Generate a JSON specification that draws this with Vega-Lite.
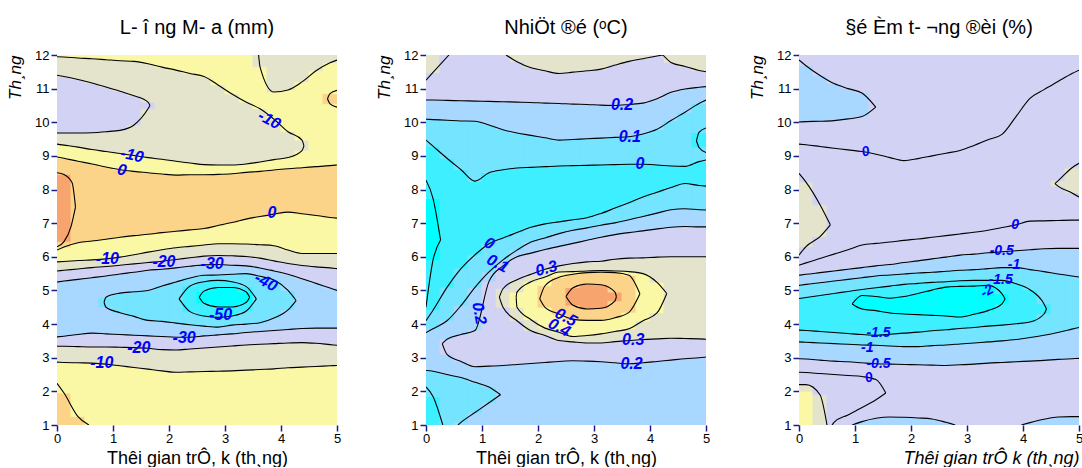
{
"$schema":"https://vega.github.io/schema/vega-lite/v6.json",
"padding":{"left":6,"top":18,"right":0,"bottom":0},
"config":{"view":{"stroke":null},"font":"Liberation Sans",
"axis":{"grid":false,"domain":false,"tickColor":"#1c1c7c","tickWidth":1.5,"tickSize":6,"labelFont":"Liberation Sans","labelFontSize":13,"labelColor":"#000","labelPadding":2,"labelFlush":false,"titleFont":"Liberation Sans","titleFontWeight":"normal","titleColor":"#000"},
"axisX":{"titleFontSize":18,"titlePadding":4,"labelPadding":1},
"axisY":{"titleFontSize":17,"titleFontStyle":"italic","titleAnchor":"end","titlePadding":10},
"title":{"font":"Liberation Sans","fontSize":20,"fontWeight":"normal","color":"#000","offset":11,"baseline":"bottom"}},
"spacing":38,
"hconcat":[{"spacing":34,"hconcat":[
{"width":280,"height":370,"title":{"text":"L- î ng M- a (mm)"},
"data":{"values":[
{"x":0,"y2":2.24,"c":"a"},{"x":0.57,"y2":1.0,"c":"a"},{"x":0,"y2":2.87,"c":"b"},{"x":5,"y2":2.77,"c":"b"},{"x":0,"y2":3.34,"c":"c"},{"x":5,"y2":3.37,"c":"c"},{"x":0,"y2":3.62,"c":"d"},{"x":5,"y2":3.88,"c":"d"},
{"x":0.84,"y2":4.65,"c":"e"},{"x":4.27,"y2":4.7,"c":"e"},{"x":0.84,"y2":4.65,"c":"j"},{"x":4.27,"y2":4.7,"c":"j"},{"x":2.18,"y2":4.75,"c":"f"},{"x":3.56,"y2":4.75,"c":"f"},{"x":2.18,"y2":4.75,"c":"i"},{"x":3.56,"y2":4.75,"c":"i"},{"x":2.54,"y2":4.8,"c":"g"},{"x":3.44,"y2":4.8,"c":"g"},{"x":2.54,"y2":4.8,"c":"h"},{"x":3.44,"y2":4.8,"c":"h"},
{"x":0,"y2":5.25,"c":"k"},{"x":5,"y2":5.0,"c":"k"},{"x":0,"y2":5.58,"c":"l"},{"x":5,"y2":5.65,"c":"l"},{"x":0,"y2":5.85,"c":"m"},{"x":5,"y2":6.1,"c":"m"},{"x":0,"y2":6.2,"c":"n"},{"x":5,"y2":7.15,"c":"n"},
{"x":0,"y2":6.3,"c":"o"},{"x":0.25,"y2":6.9,"c":"o"},{"x":0.33,"y2":7.48,"c":"o"},{"x":0,"y2":8.5,"c":"p"},{"x":0.27,"y2":8.2,"c":"p"},{"x":0.33,"y2":7.48,"c":"p"},
{"x":0,"y2":8.97,"c":"q"},{"x":5,"y2":8.73,"c":"q"},{"x":0,"y2":9.35,"c":"r"},{"x":4.41,"y2":9.3,"c":"r"},{"x":0,"y2":9.68,"c":"s"},{"x":1.66,"y2":10.5,"c":"s"},{"x":0,"y2":11.4,"c":"t"},{"x":1.66,"y2":10.5,"c":"t"},{"x":0,"y2":11.95,"c":"u"},{"x":4.41,"y2":9.3,"c":"u"},
{"x":3.6,"y2":12,"c":"w"},{"x":5,"y2":11.85,"c":"w"},{"x":5,"y2":10.45,"c":"x"},{"x":4.83,"y2":10.7,"c":"x"},{"x":4.83,"y2":10.7,"c":"y"},{"x":5,"y2":10.95,"c":"y"},
{"x":0.125,"y":1,"y2":1.95,"v":5,"c":"a"},{"x":0.125,"y":1.95,"y2":2.86,"v":-5,"c":"b"},{"x":0.125,"y":2.86,"y2":3.34,"v":-15,"c":"c"},{"x":0.125,"y":3.34,"y2":3.64,"v":-25,"c":"d"},{"x":0.125,"y":3.64,"y2":5.28,"v":-35,"c":"k"},{"x":0.125,"y":5.28,"y2":5.6,"v":-25,"c":"l"},{"x":0.125,"y":5.6,"y2":5.86,"v":-15,"c":"m"},{"x":0.125,"y":5.86,"y2":6.29,"v":-5,"c":"n"},{"x":0.125,"y":6.29,"y2":6.45,"v":5,"c":"o"},{"x":0.125,"y":6.45,"y2":8.45,"v":15,"c":"p"},{"x":0.125,"y":8.45,"y2":8.93,"v":5,"c":"q"},{"x":0.125,"y":8.93,"y2":9.32,"v":-5,"c":"r"},{"x":0.125,"y":9.32,"y2":9.68,"v":-15,"c":"s"},{"x":0.125,"y":9.68,"y2":11.36,"v":-25,"c":"t"},{"x":0.125,"y":11.36,"y2":11.94,"v":-15,"c":"u"},{"x":0.125,"y":11.94,"y2":12,"v":-5},
{"x":0.375,"y":1,"y2":1.25,"v":5,"c":"a"},{"x":0.375,"y":1.25,"y2":2.85,"v":-5,"c":"b"},{"x":0.375,"y":2.85,"y2":3.33,"v":-15,"c":"c"},{"x":0.375,"y":3.33,"y2":3.69,"v":-25,"c":"d"},{"x":0.375,"y":3.69,"y2":5.33,"v":-35,"c":"k"},{"x":0.375,"y":5.33,"y2":5.64,"v":-25,"c":"l"},{"x":0.375,"y":5.64,"y2":5.89,"v":-15,"c":"m"},{"x":0.375,"y":5.89,"y2":6.42,"v":-5,"c":"n"},{"x":0.375,"y":6.42,"y2":8.84,"v":5,"c":"q"},{"x":0.375,"y":8.84,"y2":9.26,"v":-5,"c":"r"},{"x":0.375,"y":9.26,"y2":9.68,"v":-15,"c":"s"},{"x":0.375,"y":9.68,"y2":11.27,"v":-25,"c":"t"},{"x":0.375,"y":11.27,"y2":11.91,"v":-15,"c":"u"},{"x":0.375,"y":11.91,"y2":12,"v":-5},
{"x":0.625,"y":1,"y2":2.84,"v":-5,"c":"b"},{"x":0.625,"y":2.84,"y2":3.32,"v":-15,"c":"c"},{"x":0.625,"y":3.32,"y2":3.73,"v":-25,"c":"d"},{"x":0.625,"y":3.73,"y2":5.38,"v":-35,"c":"k"},{"x":0.625,"y":5.38,"y2":5.68,"v":-25,"c":"l"},{"x":0.625,"y":5.68,"y2":5.91,"v":-15,"c":"m"},{"x":0.625,"y":5.91,"y2":6.47,"v":-5,"c":"n"},{"x":0.625,"y":6.47,"y2":8.76,"v":5,"c":"q"},{"x":0.625,"y":8.76,"y2":9.19,"v":-5,"c":"r"},{"x":0.625,"y":9.19,"y2":9.69,"v":-15,"c":"s"},{"x":0.625,"y":9.69,"y2":11.17,"v":-25,"c":"t"},{"x":0.625,"y":11.17,"y2":11.89,"v":-15,"c":"u"},{"x":0.625,"y":11.89,"y2":12,"v":-5},
{"x":0.875,"y":1,"y2":2.81,"v":-5,"c":"b"},{"x":0.875,"y":2.81,"y2":3.32,"v":-15,"c":"c"},{"x":0.875,"y":3.32,"y2":3.71,"v":-25,"c":"d"},{"x":0.875,"y":3.71,"y2":4.5,"v":-35,"c":"e"},{"x":0.875,"y":4.5,"y2":4.8,"v":-45,"c":"j"},{"x":0.875,"y":4.8,"y2":5.43,"v":-35,"c":"k"},{"x":0.875,"y":5.43,"y2":5.71,"v":-25,"c":"l"},{"x":0.875,"y":5.71,"y2":5.94,"v":-15,"c":"m"},{"x":0.875,"y":5.94,"y2":6.52,"v":-5,"c":"n"},{"x":0.875,"y":6.52,"y2":8.67,"v":5,"c":"q"},{"x":0.875,"y":8.67,"y2":9.13,"v":-5,"c":"r"},{"x":0.875,"y":9.13,"y2":9.72,"v":-15,"c":"s"},{"x":0.875,"y":9.72,"y2":11.05,"v":-25,"c":"t"},{"x":0.875,"y":11.05,"y2":11.86,"v":-15,"c":"u"},{"x":0.875,"y":11.86,"y2":12,"v":-5},
{"x":1.125,"y":1,"y2":2.76,"v":-5,"c":"b"},{"x":1.125,"y":2.76,"y2":3.31,"v":-15,"c":"c"},{"x":1.125,"y":3.31,"y2":3.69,"v":-25,"c":"d"},{"x":1.125,"y":3.69,"y2":4.34,"v":-35,"c":"e"},{"x":1.125,"y":4.34,"y2":4.92,"v":-45,"c":"j"},{"x":1.125,"y":4.92,"y2":5.49,"v":-35,"c":"k"},{"x":1.125,"y":5.49,"y2":5.75,"v":-25,"c":"l"},{"x":1.125,"y":5.75,"y2":5.99,"v":-15,"c":"m"},{"x":1.125,"y":5.99,"y2":6.58,"v":-5,"c":"n"},{"x":1.125,"y":6.58,"y2":8.59,"v":5,"c":"q"},{"x":1.125,"y":8.59,"y2":9.07,"v":-5,"c":"r"},{"x":1.125,"y":9.07,"y2":9.76,"v":-15,"c":"s"},{"x":1.125,"y":9.76,"y2":10.92,"v":-25,"c":"t"},{"x":1.125,"y":10.92,"y2":11.83,"v":-15,"c":"u"},{"x":1.125,"y":11.83,"y2":12,"v":-5},
{"x":1.375,"y":1,"y2":2.71,"v":-5,"c":"b"},{"x":1.375,"y":2.71,"y2":3.3,"v":-15,"c":"c"},{"x":1.375,"y":3.3,"y2":3.67,"v":-25,"c":"d"},{"x":1.375,"y":3.67,"y2":4.23,"v":-35,"c":"e"},{"x":1.375,"y":4.23,"y2":4.96,"v":-45,"c":"j"},{"x":1.375,"y":4.96,"y2":5.54,"v":-35,"c":"k"},{"x":1.375,"y":5.54,"y2":5.79,"v":-25,"c":"l"},{"x":1.375,"y":5.79,"y2":6.06,"v":-15,"c":"m"},{"x":1.375,"y":6.06,"y2":6.63,"v":-5,"c":"n"},{"x":1.375,"y":6.63,"y2":8.54,"v":5,"c":"q"},{"x":1.375,"y":8.54,"y2":9.01,"v":-5,"c":"r"},{"x":1.375,"y":9.01,"y2":9.92,"v":-15,"c":"s"},{"x":1.375,"y":9.92,"y2":10.79,"v":-25,"c":"t"},{"x":1.375,"y":10.79,"y2":11.81,"v":-15,"c":"u"},{"x":1.375,"y":11.81,"y2":12,"v":-5},
{"x":1.625,"y":1,"y2":2.66,"v":-5,"c":"b"},{"x":1.625,"y":2.66,"y2":3.28,"v":-15,"c":"c"},{"x":1.625,"y":3.28,"y2":3.65,"v":-25,"c":"d"},{"x":1.625,"y":3.65,"y2":4.11,"v":-35,"c":"e"},{"x":1.625,"y":4.11,"y2":5.0,"v":-45,"c":"j"},{"x":1.625,"y":5.0,"y2":5.6,"v":-35,"c":"k"},{"x":1.625,"y":5.6,"y2":5.83,"v":-25,"c":"l"},{"x":1.625,"y":5.83,"y2":6.14,"v":-15,"c":"m"},{"x":1.625,"y":6.14,"y2":6.67,"v":-5,"c":"n"},{"x":1.625,"y":6.67,"y2":8.5,"v":5,"c":"q"},{"x":1.625,"y":8.5,"y2":8.95,"v":-5,"c":"r"},{"x":1.625,"y":8.95,"y2":10.4,"v":-15,"c":"s"},{"x":1.625,"y":10.4,"y2":10.6,"v":-25,"c":"t"},{"x":1.625,"y":10.6,"y2":11.74,"v":-15,"c":"u"},{"x":1.625,"y":11.74,"y2":12,"v":-5},
{"x":1.875,"y":1,"y2":2.61,"v":-5,"c":"b"},{"x":1.875,"y":2.61,"y2":3.24,"v":-15,"c":"c"},{"x":1.875,"y":3.24,"y2":3.63,"v":-25,"c":"d"},{"x":1.875,"y":3.63,"y2":4.08,"v":-35,"c":"e"},{"x":1.875,"y":4.08,"y2":5.13,"v":-45,"c":"j"},{"x":1.875,"y":5.13,"y2":5.63,"v":-35,"c":"k"},{"x":1.875,"y":5.63,"y2":5.87,"v":-25,"c":"l"},{"x":1.875,"y":5.87,"y2":6.21,"v":-15,"c":"m"},{"x":1.875,"y":6.21,"y2":6.72,"v":-5,"c":"n"},{"x":1.875,"y":6.72,"y2":8.46,"v":5,"c":"q"},{"x":1.875,"y":8.46,"y2":8.9,"v":-5,"c":"r"},{"x":1.875,"y":8.9,"y2":11.64,"v":-15,"c":"u"},{"x":1.875,"y":11.64,"y2":12,"v":-5},
{"x":2.125,"y":1,"y2":2.57,"v":-5,"c":"b"},{"x":2.125,"y":2.57,"y2":3.23,"v":-15,"c":"c"},{"x":2.125,"y":3.23,"y2":3.61,"v":-25,"c":"d"},{"x":2.125,"y":3.61,"y2":4.03,"v":-35,"c":"e"},{"x":2.125,"y":4.03,"y2":5.25,"v":-45,"c":"j"},{"x":2.125,"y":5.25,"y2":5.67,"v":-35,"c":"k"},{"x":2.125,"y":5.67,"y2":5.92,"v":-25,"c":"l"},{"x":2.125,"y":5.92,"y2":6.27,"v":-15,"c":"m"},{"x":2.125,"y":6.27,"y2":6.76,"v":-5,"c":"n"},{"x":2.125,"y":6.76,"y2":8.43,"v":5,"c":"q"},{"x":2.125,"y":8.43,"y2":8.84,"v":-5,"c":"r"},{"x":2.125,"y":8.84,"y2":11.55,"v":-15,"c":"u"},{"x":2.125,"y":11.55,"y2":12,"v":-5},
{"x":2.375,"y":1,"y2":2.58,"v":-5,"c":"b"},{"x":2.375,"y":2.58,"y2":3.26,"v":-15,"c":"c"},{"x":2.375,"y":3.26,"y2":3.61,"v":-25,"c":"d"},{"x":2.375,"y":3.61,"y2":3.98,"v":-35,"c":"e"},{"x":2.375,"y":3.98,"y2":4.37,"v":-45,"c":"f"},{"x":2.375,"y":4.37,"y2":5.13,"v":-55,"c":"i"},{"x":2.375,"y":5.13,"y2":5.37,"v":-45,"c":"j"},{"x":2.375,"y":5.37,"y2":5.72,"v":-35,"c":"k"},{"x":2.375,"y":5.72,"y2":5.97,"v":-25,"c":"l"},{"x":2.375,"y":5.97,"y2":6.31,"v":-15,"c":"m"},{"x":2.375,"y":6.31,"y2":6.8,"v":-5,"c":"n"},{"x":2.375,"y":6.8,"y2":8.44,"v":5,"c":"q"},{"x":2.375,"y":8.44,"y2":8.79,"v":-5,"c":"r"},{"x":2.375,"y":8.79,"y2":11.45,"v":-15,"c":"u"},{"x":2.375,"y":11.45,"y2":12,"v":-5},
{"x":2.625,"y":1,"y2":2.59,"v":-5,"c":"b"},{"x":2.625,"y":2.59,"y2":3.29,"v":-15,"c":"c"},{"x":2.625,"y":3.29,"y2":3.65,"v":-25,"c":"d"},{"x":2.625,"y":3.65,"y2":3.94,"v":-35,"c":"e"},{"x":2.625,"y":3.94,"y2":4.24,"v":-45,"c":"f"},{"x":2.625,"y":4.24,"y2":4.62,"v":-55,"c":"g"},{"x":2.625,"y":4.62,"y2":4.98,"v":-65,"c":"h"},{"x":2.625,"y":4.98,"y2":5.26,"v":-55,"c":"i"},{"x":2.625,"y":5.26,"y2":5.45,"v":-45,"c":"j"},{"x":2.625,"y":5.45,"y2":5.76,"v":-35,"c":"k"},{"x":2.625,"y":5.76,"y2":6.02,"v":-25,"c":"l"},{"x":2.625,"y":6.02,"y2":6.35,"v":-15,"c":"m"},{"x":2.625,"y":6.35,"y2":6.84,"v":-5,"c":"n"},{"x":2.625,"y":6.84,"y2":8.44,"v":5,"c":"q"},{"x":2.625,"y":8.44,"y2":8.74,"v":-5,"c":"r"},{"x":2.625,"y":8.74,"y2":11.36,"v":-15,"c":"u"},{"x":2.625,"y":11.36,"y2":12,"v":-5},
{"x":2.875,"y":1,"y2":2.6,"v":-5,"c":"b"},{"x":2.875,"y":2.6,"y2":3.32,"v":-15,"c":"c"},{"x":2.875,"y":3.32,"y2":3.68,"v":-25,"c":"d"},{"x":2.875,"y":3.68,"y2":3.91,"v":-35,"c":"e"},{"x":2.875,"y":3.91,"y2":4.2,"v":-45,"c":"f"},{"x":2.875,"y":4.2,"y2":4.51,"v":-55,"c":"g"},{"x":2.875,"y":4.51,"y2":5.09,"v":-65,"c":"h"},{"x":2.875,"y":5.09,"y2":5.3,"v":-55,"c":"i"},{"x":2.875,"y":5.3,"y2":5.46,"v":-45,"c":"j"},{"x":2.875,"y":5.46,"y2":5.77,"v":-35,"c":"k"},{"x":2.875,"y":5.77,"y2":6.04,"v":-25,"c":"l"},{"x":2.875,"y":6.04,"y2":6.39,"v":-15,"c":"m"},{"x":2.875,"y":6.39,"y2":6.93,"v":-5,"c":"n"},{"x":2.875,"y":6.93,"y2":8.45,"v":5,"c":"q"},{"x":2.875,"y":8.45,"y2":8.73,"v":-5,"c":"r"},{"x":2.875,"y":8.73,"y2":11.11,"v":-15,"c":"u"},{"x":2.875,"y":11.11,"y2":12,"v":-5},
{"x":3.125,"y":1,"y2":2.61,"v":-5,"c":"b"},{"x":3.125,"y":2.61,"y2":3.35,"v":-15,"c":"c"},{"x":3.125,"y":3.35,"y2":3.71,"v":-25,"c":"d"},{"x":3.125,"y":3.71,"y2":3.97,"v":-35,"c":"e"},{"x":3.125,"y":3.97,"y2":4.24,"v":-45,"c":"f"},{"x":3.125,"y":4.24,"y2":4.51,"v":-55,"c":"g"},{"x":3.125,"y":4.51,"y2":5.09,"v":-65,"c":"h"},{"x":3.125,"y":5.09,"y2":5.26,"v":-55,"c":"i"},{"x":3.125,"y":5.26,"y2":5.48,"v":-45,"c":"j"},{"x":3.125,"y":5.48,"y2":5.75,"v":-35,"c":"k"},{"x":3.125,"y":5.75,"y2":6.03,"v":-25,"c":"l"},{"x":3.125,"y":6.03,"y2":6.39,"v":-15,"c":"m"},{"x":3.125,"y":6.39,"y2":7.02,"v":-5,"c":"n"},{"x":3.125,"y":7.02,"y2":8.47,"v":5,"c":"q"},{"x":3.125,"y":8.47,"y2":8.73,"v":-5,"c":"r"},{"x":3.125,"y":8.73,"y2":10.84,"v":-15,"c":"u"},{"x":3.125,"y":10.84,"y2":12,"v":-5},
{"x":3.375,"y":1,"y2":2.63,"v":-5,"c":"b"},{"x":3.375,"y":2.63,"y2":3.38,"v":-15,"c":"c"},{"x":3.375,"y":3.38,"y2":3.75,"v":-25,"c":"d"},{"x":3.375,"y":3.75,"y2":4.0,"v":-35,"c":"e"},{"x":3.375,"y":4.0,"y2":4.38,"v":-45,"c":"f"},{"x":3.375,"y":4.38,"y2":4.64,"v":-55,"c":"g"},{"x":3.375,"y":4.64,"y2":4.96,"v":-65,"c":"h"},{"x":3.375,"y":4.96,"y2":5.12,"v":-55,"c":"i"},{"x":3.375,"y":5.12,"y2":5.5,"v":-45,"c":"j"},{"x":3.375,"y":5.5,"y2":5.73,"v":-35,"c":"k"},{"x":3.375,"y":5.73,"y2":6.01,"v":-25,"c":"l"},{"x":3.375,"y":6.01,"y2":6.38,"v":-15,"c":"m"},{"x":3.375,"y":6.38,"y2":7.12,"v":-5,"c":"n"},{"x":3.375,"y":7.12,"y2":8.51,"v":5,"c":"q"},{"x":3.375,"y":8.51,"y2":8.76,"v":-5,"c":"r"},{"x":3.375,"y":8.76,"y2":10.6,"v":-15,"c":"u"},{"x":3.375,"y":10.6,"y2":12,"v":-5},
{"x":3.625,"y":1,"y2":2.65,"v":-5,"c":"b"},{"x":3.625,"y":2.65,"y2":3.4,"v":-15,"c":"c"},{"x":3.625,"y":3.4,"y2":3.78,"v":-25,"c":"d"},{"x":3.625,"y":3.78,"y2":4.04,"v":-35,"c":"e"},{"x":3.625,"y":4.04,"y2":5.42,"v":-45,"c":"j"},{"x":3.625,"y":5.42,"y2":5.67,"v":-35,"c":"k"},{"x":3.625,"y":5.67,"y2":5.96,"v":-25,"c":"l"},{"x":3.625,"y":5.96,"y2":6.36,"v":-15,"c":"m"},{"x":3.625,"y":6.36,"y2":7.2,"v":-5,"c":"n"},{"x":3.625,"y":7.2,"y2":8.54,"v":5,"c":"q"},{"x":3.625,"y":8.54,"y2":8.82,"v":-5,"c":"r"},{"x":3.625,"y":8.82,"y2":10.4,"v":-15,"c":"u"},{"x":3.625,"y":10.4,"y2":11.65,"v":-5,"c":"w"},{"x":3.625,"y":11.65,"y2":12,"v":-15},
{"x":3.875,"y":1,"y2":2.67,"v":-5,"c":"b"},{"x":3.875,"y":2.67,"y2":3.42,"v":-15,"c":"c"},{"x":3.875,"y":3.42,"y2":3.81,"v":-25,"c":"d"},{"x":3.875,"y":3.81,"y2":4.18,"v":-35,"c":"e"},{"x":3.875,"y":4.18,"y2":5.31,"v":-45,"c":"j"},{"x":3.875,"y":5.31,"y2":5.58,"v":-35,"c":"k"},{"x":3.875,"y":5.58,"y2":5.88,"v":-25,"c":"l"},{"x":3.875,"y":5.88,"y2":6.33,"v":-15,"c":"m"},{"x":3.875,"y":6.33,"y2":7.27,"v":-5,"c":"n"},{"x":3.875,"y":7.27,"y2":8.58,"v":5,"c":"q"},{"x":3.875,"y":8.58,"y2":8.89,"v":-5,"c":"r"},{"x":3.875,"y":8.89,"y2":10.09,"v":-15,"c":"u"},{"x":3.875,"y":10.09,"y2":10.9,"v":-5,"c":"w"},{"x":3.875,"y":10.9,"y2":12,"v":-15},
{"x":4.125,"y":1,"y2":2.7,"v":-5,"c":"b"},{"x":4.125,"y":2.7,"y2":3.44,"v":-15,"c":"c"},{"x":4.125,"y":3.44,"y2":3.84,"v":-25,"c":"d"},{"x":4.125,"y":3.84,"y2":4.42,"v":-35,"c":"e"},{"x":4.125,"y":4.42,"y2":5.0,"v":-45,"c":"j"},{"x":4.125,"y":5.0,"y2":5.48,"v":-35,"c":"k"},{"x":4.125,"y":5.48,"y2":5.8,"v":-25,"c":"l"},{"x":4.125,"y":5.8,"y2":6.2,"v":-15,"c":"m"},{"x":4.125,"y":6.2,"y2":7.33,"v":-5,"c":"n"},{"x":4.125,"y":7.33,"y2":8.62,"v":5,"c":"q"},{"x":4.125,"y":8.62,"y2":8.95,"v":-5,"c":"r"},{"x":4.125,"y":8.95,"y2":9.72,"v":-15,"c":"u"},{"x":4.125,"y":9.72,"y2":10.96,"v":-5,"c":"w"},{"x":4.125,"y":10.96,"y2":12,"v":-15},
{"x":4.375,"y":1,"y2":2.72,"v":-5,"c":"b"},{"x":4.375,"y":2.72,"y2":3.45,"v":-15,"c":"c"},{"x":4.375,"y":3.45,"y2":3.87,"v":-25,"c":"d"},{"x":4.375,"y":3.87,"y2":5.35,"v":-35,"c":"k"},{"x":4.375,"y":5.35,"y2":5.74,"v":-25,"c":"l"},{"x":4.375,"y":5.74,"y2":6.1,"v":-15,"c":"m"},{"x":4.375,"y":6.1,"y2":7.28,"v":-5,"c":"n"},{"x":4.375,"y":7.28,"y2":8.65,"v":5,"c":"q"},{"x":4.375,"y":8.65,"y2":9.16,"v":-5,"c":"r"},{"x":4.375,"y":9.16,"y2":9.47,"v":-15,"c":"u"},{"x":4.375,"y":9.47,"y2":11.2,"v":-5,"c":"w"},{"x":4.375,"y":11.2,"y2":12,"v":-15},
{"x":4.625,"y":1,"y2":2.74,"v":-5,"c":"b"},{"x":4.625,"y":2.74,"y2":3.43,"v":-15,"c":"c"},{"x":4.625,"y":3.43,"y2":3.88,"v":-25,"c":"d"},{"x":4.625,"y":3.88,"y2":5.21,"v":-35,"c":"k"},{"x":4.625,"y":5.21,"y2":5.7,"v":-25,"c":"l"},{"x":4.625,"y":5.7,"y2":6.1,"v":-15,"c":"m"},{"x":4.625,"y":6.1,"y2":7.23,"v":-5,"c":"n"},{"x":4.625,"y":7.23,"y2":8.68,"v":5,"c":"q"},{"x":4.625,"y":8.68,"y2":11.53,"v":-5,"c":"w"},{"x":4.625,"y":11.53,"y2":12,"v":-15},
{"x":4.875,"y":1,"y2":2.76,"v":-5,"c":"b"},{"x":4.875,"y":2.76,"y2":3.39,"v":-15,"c":"c"},{"x":4.875,"y":3.39,"y2":3.88,"v":-25,"c":"d"},{"x":4.875,"y":3.88,"y2":5.07,"v":-35,"c":"k"},{"x":4.875,"y":5.07,"y2":5.67,"v":-25,"c":"l"},{"x":4.875,"y":5.67,"y2":6.1,"v":-15,"c":"m"},{"x":4.875,"y":6.1,"y2":7.17,"v":-5,"c":"n"},{"x":4.875,"y":7.17,"y2":8.71,"v":5,"c":"q"},{"x":4.875,"y":8.71,"y2":10.55,"v":-5,"c":"x"},{"x":4.875,"y":10.55,"y2":10.85,"v":5,"c":"y"},{"x":4.875,"y":10.85,"y2":11.77,"v":-5,"c":"w"},{"x":4.875,"y":11.77,"y2":12,"v":-15}
]},
"encoding":{"x":{"field":"x","type":"quantitative","scale":{"domain":[0,5],"nice":false,"zero":false},"axis":{"values":[0,1,2,3,4,5],"title":"Thêi gian trÔ, k (th¸ng)"}},
"y":{"field":"y","type":"quantitative","scale":{"domain":[1,12],"nice":false,"zero":false},"axis":{"values":[1,2,3,4,5,6,7,8,9,10,11,12],"title":"Th¸ng"}}},
"layer":[
{"transform":[{"filter":"isValid(datum.v)"}],"mark":{"type":"rect","width":14.3,"clip":true,"strokeWidth":0.6},
"encoding":{"y2":{"field":"y2"},
"color":{"field":"v","type":"ordinal","scale":{"domain":[-65,-55,-45,-35,-25,-15,-5,5,15],"range":["#00FFFF","#3EF0FF","#74E4FF","#A8D8FF","#D2D2F4","#E4E4CC","#FAF8A4","#FBD48A","#F8A46E"]},"legend":null},
"stroke":{"field":"v","type":"ordinal","scale":{"domain":[-65,-55,-45,-35,-25,-15,-5,5,15],"range":["#00FFFF","#3EF0FF","#74E4FF","#A8D8FF","#D2D2F4","#E4E4CC","#FAF8A4","#FBD48A","#F8A46E"]},"legend":null}}},
{"transform":[{"filter":"isValid(datum.c)"}],"mark":{"type":"line","color":"#000","strokeWidth":1.1,"interpolate":"monotone","clip":true},
"encoding":{"y":{"field":"y2","type":"quantitative","scale":{"domain":[1,12],"nice":false,"zero":false},"axis":{"values":[1,2,3,4,5,6,7,8,9,10,11,12],"title":"Th¸ng"}},"detail":{"field":"c"},"order":{"field":"x","type":"quantitative"}}},
{"data":{"values":[{"x":3.84,"y":7.3,"t":"0"},{"x":0.9,"y":5.93,"t":"-10"},{"x":1.91,"y":5.85,"t":"-20"},{"x":2.77,"y":5.78,"t":"-30"},{"x":2.92,"y":4.26,"t":"-50"},{"x":2.27,"y":3.6,"t":"-30"},{"x":1.46,"y":3.3,"t":"-20"},{"x":0.8,"y":2.83,"t":"-10"}]},
"mark":{"type":"text","font":"Liberation Sans","fontSize":16,"fontStyle":"italic","fontWeight":"bold","fill":"#0000FF"},"encoding":{"text":{"field":"t"}}},
{"data":{"values":[{"x":1.34,"y":9.02,"t":"-10"},{"x":1.16,"y":8.58,"t":"0"}]},
"mark":{"type":"text","angle":12,"font":"Liberation Sans","fontSize":16,"fontStyle":"italic","fontWeight":"bold","fill":"#0000FF"},"encoding":{"text":{"field":"t"}}},
{"data":{"values":[{"x":3.79,"y":10.07,"t":"-10"},{"x":3.73,"y":5.25,"t":"-40"}]},
"mark":{"type":"text","angle":28,"font":"Liberation Sans","fontSize":16,"fontStyle":"italic","fontWeight":"bold","fill":"#0000FF"},"encoding":{"text":{"field":"t"}}},
{"data":{"values":[{}]},"mark":{"type":"rect","fill":"transparent","stroke":"#1c1c7c","strokeWidth":1.5},"encoding":{"x":{"datum":0},"x2":{"datum":5},"y":{"datum":1},"y2":{"datum":12}}}
]},
{"width":280,"height":370,"title":{"text":"NhiÖt ®é (ᵒC)"},
"data":{"values":[
{"x":0,"y2":2.13,"c":"A"},{"x":0.3,"y2":1.0,"c":"A"},{"x":0,"y2":2.62,"c":"B"},{"x":1.33,"y2":1.9,"c":"B"},{"x":0.57,"y2":1.0,"c":"M"},{"x":1.33,"y2":1.9,"c":"M"},{"x":0,"y2":3.75,"c":"C"},{"x":5,"y2":7.39,"c":"C"},{"x":0,"y2":4.1,"c":"D"},{"x":5,"y2":8.1,"c":"D"},{"x":0,"y2":4.5,"c":"E"},{"x":0.26,"y2":6.5,"c":"E"},{"x":0,"y2":8.28,"c":"F"},{"x":0.26,"y2":6.5,"c":"F"},{"x":0,"y2":9.47,"c":"G"},{"x":5,"y2":8.88,"c":"G"},{"x":0,"y2":10.09,"c":"H"},{"x":5,"y2":10.66,"c":"H"},{"x":0,"y2":10.66,"c":"I"},{"x":5,"y2":11.06,"c":"I"},{"x":0,"y2":11.25,"c":"J"},{"x":0.41,"y2":12,"c":"J"},{"x":0.29,"y2":3.42,"c":"K"},{"x":5,"y2":3.02,"c":"K"},{"x":0.29,"y2":3.42,"c":"L"},{"x":5,"y2":6.89,"c":"L"},{"x":1.31,"y2":4.8,"c":"N"},{"x":5,"y2":3.55,"c":"N"},{"x":1.31,"y2":4.8,"c":"O"},{"x":5,"y2":6.0,"c":"O"},{"x":1.61,"y2":4.8,"c":"P"},{"x":4.3,"y2":4.91,"c":"P"},{"x":1.61,"y2":4.8,"c":"Q"},{"x":4.3,"y2":4.91,"c":"Q"},{"x":2.03,"y2":4.75,"c":"S"},{"x":3.82,"y2":4.9,"c":"S"},{"x":2.03,"y2":4.75,"c":"T"},{"x":3.82,"y2":4.9,"c":"T"},{"x":2.5,"y2":4.82,"c":"U"},{"x":3.4,"y2":4.82,"c":"U"},{"x":2.5,"y2":4.82,"c":"V"},{"x":3.4,"y2":4.82,"c":"V"},{"x":1.43,"y2":12,"c":"R"},{"x":4.23,"y2":12,"c":"R"},{"x":4.23,"y2":12,"c":"W"},{"x":5,"y2":11.5,"c":"W"},{"x":4.83,"y2":9.45,"c":"X"},{"x":5,"y2":9.1,"c":"X"},{"x":4.83,"y2":9.45,"c":"Y"},{"x":5,"y2":9.83,"c":"Y"},
{"x":0.125,"y":1,"y2":1.85,"v":-0.05,"c":"A"},{"x":0.125,"y":1.85,"y2":2.6,"v":0.05,"c":"B"},{"x":0.125,"y":2.6,"y2":3.86,"v":0.15,"c":"C"},{"x":0.125,"y":3.86,"y2":4.41,"v":0.05,"c":"D"},{"x":0.125,"y":4.41,"y2":5.9,"v":-0.05,"c":"E"},{"x":0.125,"y":5.9,"y2":7.74,"v":-0.15,"c":"F"},{"x":0.125,"y":7.74,"y2":9.29,"v":-0.05,"c":"G"},{"x":0.125,"y":9.29,"y2":10.08,"v":0.05,"c":"H"},{"x":0.125,"y":10.08,"y2":10.66,"v":0.15,"c":"I"},{"x":0.125,"y":10.66,"y2":11.48,"v":0.25,"c":"J"},{"x":0.125,"y":11.48,"y2":12,"v":0.35},
{"x":0.375,"y":1,"y2":2.5,"v":0.05,"c":"B"},{"x":0.375,"y":2.5,"y2":3.1,"v":0.15,"c":"K"},{"x":0.375,"y":3.1,"y2":3.55,"v":0.25,"c":"L"},{"x":0.375,"y":3.55,"y2":4.1,"v":0.15,"c":"C"},{"x":0.375,"y":4.1,"y2":5.09,"v":0.05,"c":"D"},{"x":0.375,"y":5.09,"y2":8.93,"v":-0.05,"c":"G"},{"x":0.375,"y":8.93,"y2":10.06,"v":0.05,"c":"H"},{"x":0.375,"y":10.06,"y2":10.65,"v":0.15,"c":"I"},{"x":0.375,"y":10.65,"y2":12,"v":0.25},
{"x":0.625,"y":1,"y2":1.08,"v":0.15,"c":"M"},{"x":0.625,"y":1.08,"y2":2.41,"v":0.05,"c":"B"},{"x":0.625,"y":2.41,"y2":2.89,"v":0.15,"c":"K"},{"x":0.625,"y":2.89,"y2":3.69,"v":0.25,"c":"L"},{"x":0.625,"y":3.69,"y2":4.55,"v":0.15,"c":"C"},{"x":0.625,"y":4.55,"y2":5.65,"v":0.05,"c":"D"},{"x":0.625,"y":5.65,"y2":8.59,"v":-0.05,"c":"G"},{"x":0.625,"y":8.59,"y2":10.04,"v":0.05,"c":"H"},{"x":0.625,"y":10.04,"y2":10.64,"v":0.15,"c":"I"},{"x":0.625,"y":10.64,"y2":12,"v":0.25},
{"x":0.875,"y":1,"y2":1.37,"v":0.15,"c":"M"},{"x":0.875,"y":1.37,"y2":2.27,"v":0.05,"c":"B"},{"x":0.875,"y":2.27,"y2":2.73,"v":0.15,"c":"K"},{"x":0.875,"y":2.73,"y2":3.81,"v":0.25,"c":"L"},{"x":0.875,"y":3.81,"y2":5.09,"v":0.15,"c":"C"},{"x":0.875,"y":5.09,"y2":6.06,"v":0.05,"c":"D"},{"x":0.875,"y":6.06,"y2":8.25,"v":-0.05,"c":"G"},{"x":0.875,"y":8.25,"y2":10.03,"v":0.05,"c":"H"},{"x":0.875,"y":10.03,"y2":10.63,"v":0.15,"c":"I"},{"x":0.875,"y":10.63,"y2":12,"v":0.25},
{"x":1.125,"y":1,"y2":1.66,"v":0.15,"c":"M"},{"x":1.125,"y":1.66,"y2":2.13,"v":0.05,"c":"B"},{"x":1.125,"y":2.13,"y2":2.75,"v":0.15,"c":"K"},{"x":1.125,"y":2.75,"y2":5.27,"v":0.25,"c":"L"},{"x":1.125,"y":5.27,"y2":5.55,"v":0.15,"c":"C"},{"x":1.125,"y":5.55,"y2":6.39,"v":0.05,"c":"D"},{"x":1.125,"y":6.39,"y2":8.5,"v":-0.05,"c":"G"},{"x":1.125,"y":8.5,"y2":9.92,"v":0.05,"c":"H"},{"x":1.125,"y":9.92,"y2":10.62,"v":0.15,"c":"I"},{"x":1.125,"y":10.62,"y2":12,"v":0.25},
{"x":1.375,"y":1,"y2":2.77,"v":0.15,"c":"K"},{"x":1.375,"y":2.77,"y2":4.5,"v":0.25,"c":"N"},{"x":1.375,"y":4.5,"y2":5.05,"v":0.35,"c":"O"},{"x":1.375,"y":5.05,"y2":5.73,"v":0.25,"c":"L"},{"x":1.375,"y":5.73,"y2":5.91,"v":0.15,"c":"C"},{"x":1.375,"y":5.91,"y2":6.56,"v":0.05,"c":"D"},{"x":1.375,"y":6.56,"y2":8.59,"v":-0.05,"c":"G"},{"x":1.375,"y":8.59,"y2":9.78,"v":0.05,"c":"H"},{"x":1.375,"y":9.78,"y2":10.61,"v":0.15,"c":"I"},{"x":1.375,"y":10.61,"y2":12,"v":0.25},
{"x":1.625,"y":1,"y2":2.8,"v":0.15,"c":"K"},{"x":1.625,"y":2.8,"y2":4.1,"v":0.25,"c":"N"},{"x":1.625,"y":4.1,"y2":4.5,"v":0.35,"c":"P"},{"x":1.625,"y":4.5,"y2":4.95,"v":0.45,"c":"Q"},{"x":1.625,"y":4.95,"y2":5.32,"v":0.35,"c":"O"},{"x":1.625,"y":5.32,"y2":6.0,"v":0.25,"c":"L"},{"x":1.625,"y":6.0,"y2":6.2,"v":0.15,"c":"C"},{"x":1.625,"y":6.2,"y2":6.72,"v":0.05,"c":"D"},{"x":1.625,"y":6.72,"y2":8.64,"v":-0.05,"c":"G"},{"x":1.625,"y":8.64,"y2":9.68,"v":0.05,"c":"H"},{"x":1.625,"y":9.68,"y2":10.6,"v":0.15,"c":"I"},{"x":1.625,"y":10.6,"y2":11.8,"v":0.25,"c":"R"},{"x":1.625,"y":11.8,"y2":12,"v":0.35},
{"x":1.875,"y":1,"y2":2.83,"v":0.15,"c":"K"},{"x":1.875,"y":2.83,"y2":3.8,"v":0.25,"c":"N"},{"x":1.875,"y":3.8,"y2":4.13,"v":0.35,"c":"P"},{"x":1.875,"y":4.13,"y2":5.26,"v":0.45,"c":"Q"},{"x":1.875,"y":5.26,"y2":5.48,"v":0.35,"c":"O"},{"x":1.875,"y":5.48,"y2":6.11,"v":0.25,"c":"L"},{"x":1.875,"y":6.11,"y2":6.44,"v":0.15,"c":"C"},{"x":1.875,"y":6.44,"y2":6.88,"v":0.05,"c":"D"},{"x":1.875,"y":6.88,"y2":8.66,"v":-0.05,"c":"G"},{"x":1.875,"y":8.66,"y2":9.61,"v":0.05,"c":"H"},{"x":1.875,"y":9.61,"y2":10.59,"v":0.15,"c":"I"},{"x":1.875,"y":10.59,"y2":11.62,"v":0.25,"c":"R"},{"x":1.875,"y":11.62,"y2":12,"v":0.35},
{"x":2.125,"y":1,"y2":2.86,"v":0.15,"c":"K"},{"x":2.125,"y":2.86,"y2":3.66,"v":0.25,"c":"N"},{"x":2.125,"y":3.66,"y2":3.88,"v":0.35,"c":"P"},{"x":2.125,"y":3.88,"y2":4.5,"v":0.45,"c":"S"},{"x":2.125,"y":4.5,"y2":5.14,"v":0.55,"c":"T"},{"x":2.125,"y":5.14,"y2":5.4,"v":0.45,"c":"Q"},{"x":2.125,"y":5.4,"y2":5.63,"v":0.35,"c":"O"},{"x":2.125,"y":5.63,"y2":6.22,"v":0.25,"c":"L"},{"x":2.125,"y":6.22,"y2":6.56,"v":0.15,"c":"C"},{"x":2.125,"y":6.56,"y2":6.98,"v":0.05,"c":"D"},{"x":2.125,"y":6.98,"y2":8.68,"v":-0.05,"c":"G"},{"x":2.125,"y":8.68,"y2":9.54,"v":0.05,"c":"H"},{"x":2.125,"y":9.54,"y2":10.57,"v":0.15,"c":"I"},{"x":2.125,"y":10.57,"y2":11.53,"v":0.25,"c":"R"},{"x":2.125,"y":11.53,"y2":12,"v":0.35},
{"x":2.375,"y":1,"y2":2.89,"v":0.15,"c":"K"},{"x":2.375,"y":2.89,"y2":3.51,"v":0.25,"c":"N"},{"x":2.375,"y":3.51,"y2":3.76,"v":0.35,"c":"P"},{"x":2.375,"y":3.76,"y2":4.3,"v":0.45,"c":"S"},{"x":2.375,"y":4.3,"y2":5.39,"v":0.55,"c":"T"},{"x":2.375,"y":5.39,"y2":5.55,"v":0.45,"c":"Q"},{"x":2.375,"y":5.55,"y2":5.73,"v":0.35,"c":"O"},{"x":2.375,"y":5.73,"y2":6.31,"v":0.25,"c":"L"},{"x":2.375,"y":6.31,"y2":6.69,"v":0.15,"c":"C"},{"x":2.375,"y":6.69,"y2":7.04,"v":0.05,"c":"D"},{"x":2.375,"y":7.04,"y2":8.7,"v":-0.05,"c":"G"},{"x":2.375,"y":8.7,"y2":9.47,"v":0.05,"c":"H"},{"x":2.375,"y":9.47,"y2":10.56,"v":0.15,"c":"I"},{"x":2.375,"y":10.56,"y2":11.45,"v":0.25,"c":"R"},{"x":2.375,"y":11.45,"y2":12,"v":0.35},
{"x":2.625,"y":1,"y2":2.91,"v":0.15,"c":"K"},{"x":2.625,"y":2.91,"y2":3.47,"v":0.25,"c":"N"},{"x":2.625,"y":3.47,"y2":3.63,"v":0.35,"c":"P"},{"x":2.625,"y":3.63,"y2":4.14,"v":0.45,"c":"S"},{"x":2.625,"y":4.14,"y2":4.56,"v":0.55,"c":"U"},{"x":2.625,"y":4.56,"y2":5.08,"v":0.65,"c":"V"},{"x":2.625,"y":5.08,"y2":5.48,"v":0.55,"c":"T"},{"x":2.625,"y":5.48,"y2":5.56,"v":0.45,"c":"Q"},{"x":2.625,"y":5.56,"y2":5.8,"v":0.35,"c":"O"},{"x":2.625,"y":5.8,"y2":6.4,"v":0.25,"c":"L"},{"x":2.625,"y":6.4,"y2":6.79,"v":0.15,"c":"C"},{"x":2.625,"y":6.79,"y2":7.1,"v":0.05,"c":"D"},{"x":2.625,"y":7.1,"y2":8.71,"v":-0.05,"c":"G"},{"x":2.625,"y":8.71,"y2":9.49,"v":0.05,"c":"H"},{"x":2.625,"y":9.49,"y2":10.54,"v":0.15,"c":"I"},{"x":2.625,"y":10.54,"y2":11.49,"v":0.25,"c":"R"},{"x":2.625,"y":11.49,"y2":12,"v":0.35},
{"x":2.875,"y":1,"y2":2.9,"v":0.15,"c":"K"},{"x":2.875,"y":2.9,"y2":3.44,"v":0.25,"c":"N"},{"x":2.875,"y":3.44,"y2":3.66,"v":0.35,"c":"P"},{"x":2.875,"y":3.66,"y2":4.11,"v":0.45,"c":"S"},{"x":2.875,"y":4.11,"y2":4.45,"v":0.55,"c":"U"},{"x":2.875,"y":4.45,"y2":5.19,"v":0.65,"c":"V"},{"x":2.875,"y":5.19,"y2":5.53,"v":0.55,"c":"T"},{"x":2.875,"y":5.53,"y2":5.58,"v":0.45,"c":"Q"},{"x":2.875,"y":5.58,"y2":5.85,"v":0.35,"c":"O"},{"x":2.875,"y":5.85,"y2":6.49,"v":0.25,"c":"L"},{"x":2.875,"y":6.49,"y2":6.86,"v":0.15,"c":"C"},{"x":2.875,"y":6.86,"y2":7.16,"v":0.05,"c":"D"},{"x":2.875,"y":7.16,"y2":8.72,"v":-0.05,"c":"G"},{"x":2.875,"y":8.72,"y2":9.51,"v":0.05,"c":"H"},{"x":2.875,"y":9.51,"y2":10.53,"v":0.15,"c":"I"},{"x":2.875,"y":10.53,"y2":11.53,"v":0.25,"c":"R"},{"x":2.875,"y":11.53,"y2":12,"v":0.35},
{"x":3.125,"y":1,"y2":2.88,"v":0.15,"c":"K"},{"x":3.125,"y":2.88,"y2":3.44,"v":0.25,"c":"N"},{"x":3.125,"y":3.44,"y2":3.71,"v":0.35,"c":"P"},{"x":3.125,"y":3.71,"y2":4.11,"v":0.45,"c":"S"},{"x":3.125,"y":4.11,"y2":4.47,"v":0.55,"c":"U"},{"x":3.125,"y":4.47,"y2":5.17,"v":0.65,"c":"V"},{"x":3.125,"y":5.17,"y2":5.54,"v":0.55,"c":"T"},{"x":3.125,"y":5.54,"y2":5.59,"v":0.45,"c":"Q"},{"x":3.125,"y":5.59,"y2":5.87,"v":0.35,"c":"O"},{"x":3.125,"y":5.87,"y2":6.58,"v":0.25,"c":"L"},{"x":3.125,"y":6.58,"y2":6.94,"v":0.15,"c":"C"},{"x":3.125,"y":6.94,"y2":7.29,"v":0.05,"c":"D"},{"x":3.125,"y":7.29,"y2":8.73,"v":-0.05,"c":"G"},{"x":3.125,"y":8.73,"y2":9.53,"v":0.05,"c":"H"},{"x":3.125,"y":9.53,"y2":10.51,"v":0.15,"c":"I"},{"x":3.125,"y":10.51,"y2":11.58,"v":0.25,"c":"R"},{"x":3.125,"y":11.58,"y2":12,"v":0.35},
{"x":3.375,"y":1,"y2":2.85,"v":0.15,"c":"K"},{"x":3.375,"y":2.85,"y2":3.48,"v":0.25,"c":"N"},{"x":3.375,"y":3.48,"y2":3.78,"v":0.35,"c":"P"},{"x":3.375,"y":3.78,"y2":4.19,"v":0.45,"c":"S"},{"x":3.375,"y":4.19,"y2":4.69,"v":0.55,"c":"U"},{"x":3.375,"y":4.69,"y2":4.95,"v":0.65,"c":"V"},{"x":3.375,"y":4.95,"y2":5.53,"v":0.55,"c":"T"},{"x":3.375,"y":5.53,"y2":5.58,"v":0.45,"c":"Q"},{"x":3.375,"y":5.58,"y2":5.93,"v":0.35,"c":"O"},{"x":3.375,"y":5.93,"y2":6.66,"v":0.25,"c":"L"},{"x":3.375,"y":6.66,"y2":7.01,"v":0.15,"c":"C"},{"x":3.375,"y":7.01,"y2":7.45,"v":0.05,"c":"D"},{"x":3.375,"y":7.45,"y2":8.74,"v":-0.05,"c":"G"},{"x":3.375,"y":8.74,"y2":9.55,"v":0.05,"c":"H"},{"x":3.375,"y":9.55,"y2":10.5,"v":0.15,"c":"I"},{"x":3.375,"y":10.5,"y2":11.7,"v":0.25,"c":"R"},{"x":3.375,"y":11.7,"y2":12,"v":0.35},
{"x":3.625,"y":1,"y2":2.82,"v":0.15,"c":"K"},{"x":3.625,"y":2.82,"y2":3.51,"v":0.25,"c":"N"},{"x":3.625,"y":3.51,"y2":3.86,"v":0.35,"c":"P"},{"x":3.625,"y":3.86,"y2":4.35,"v":0.45,"c":"S"},{"x":3.625,"y":4.35,"y2":5.45,"v":0.55,"c":"T"},{"x":3.625,"y":5.45,"y2":5.56,"v":0.45,"c":"Q"},{"x":3.625,"y":5.56,"y2":5.96,"v":0.35,"c":"O"},{"x":3.625,"y":5.96,"y2":6.72,"v":0.25,"c":"L"},{"x":3.625,"y":6.72,"y2":7.1,"v":0.15,"c":"C"},{"x":3.625,"y":7.1,"y2":7.61,"v":0.05,"c":"D"},{"x":3.625,"y":7.61,"y2":8.75,"v":-0.05,"c":"G"},{"x":3.625,"y":8.75,"y2":9.57,"v":0.05,"c":"H"},{"x":3.625,"y":9.57,"y2":10.53,"v":0.15,"c":"I"},{"x":3.625,"y":10.53,"y2":11.81,"v":0.25,"c":"R"},{"x":3.625,"y":11.81,"y2":12,"v":0.35},
{"x":3.875,"y":1,"y2":2.85,"v":0.15,"c":"K"},{"x":3.875,"y":2.85,"y2":3.54,"v":0.25,"c":"N"},{"x":3.875,"y":3.54,"y2":4.1,"v":0.35,"c":"P"},{"x":3.875,"y":4.1,"y2":5.5,"v":0.45,"c":"Q"},{"x":3.875,"y":5.5,"y2":5.97,"v":0.35,"c":"O"},{"x":3.875,"y":5.97,"y2":6.77,"v":0.25,"c":"L"},{"x":3.875,"y":6.77,"y2":7.2,"v":0.15,"c":"C"},{"x":3.875,"y":7.2,"y2":7.78,"v":0.05,"c":"D"},{"x":3.875,"y":7.78,"y2":8.75,"v":-0.05,"c":"G"},{"x":3.875,"y":8.75,"y2":9.65,"v":0.05,"c":"H"},{"x":3.875,"y":9.65,"y2":10.57,"v":0.15,"c":"I"},{"x":3.875,"y":10.57,"y2":11.89,"v":0.25,"c":"R"},{"x":3.875,"y":11.89,"y2":12,"v":0.35},
{"x":4.125,"y":1,"y2":2.89,"v":0.15,"c":"K"},{"x":4.125,"y":2.89,"y2":3.56,"v":0.25,"c":"N"},{"x":4.125,"y":3.56,"y2":4.33,"v":0.35,"c":"P"},{"x":4.125,"y":4.33,"y2":5.24,"v":0.45,"c":"Q"},{"x":4.125,"y":5.24,"y2":5.99,"v":0.35,"c":"O"},{"x":4.125,"y":5.99,"y2":6.83,"v":0.25,"c":"L"},{"x":4.125,"y":6.83,"y2":7.3,"v":0.15,"c":"C"},{"x":4.125,"y":7.3,"y2":7.92,"v":0.05,"c":"D"},{"x":4.125,"y":7.92,"y2":8.73,"v":-0.05,"c":"G"},{"x":4.125,"y":8.73,"y2":9.79,"v":0.05,"c":"H"},{"x":4.125,"y":9.79,"y2":10.7,"v":0.15,"c":"I"},{"x":4.125,"y":10.7,"y2":11.97,"v":0.25,"c":"R"},{"x":4.125,"y":11.97,"y2":12,"v":0.35},
{"x":4.375,"y":1,"y2":2.93,"v":0.15,"c":"K"},{"x":4.375,"y":2.93,"y2":3.58,"v":0.25,"c":"N"},{"x":4.375,"y":3.58,"y2":6.0,"v":0.35,"c":"O"},{"x":4.375,"y":6.0,"y2":6.88,"v":0.25,"c":"L"},{"x":4.375,"y":6.88,"y2":7.4,"v":0.15,"c":"C"},{"x":4.375,"y":7.4,"y2":8.06,"v":0.05,"c":"D"},{"x":4.375,"y":8.06,"y2":8.7,"v":-0.05,"c":"G"},{"x":4.375,"y":8.7,"y2":10.05,"v":0.05,"c":"H"},{"x":4.375,"y":10.05,"y2":10.89,"v":0.15,"c":"I"},{"x":4.375,"y":10.89,"y2":11.78,"v":0.25,"c":"W"},{"x":4.375,"y":11.78,"y2":12,"v":0.35},
{"x":4.625,"y":1,"y2":2.97,"v":0.15,"c":"K"},{"x":4.625,"y":2.97,"y2":3.57,"v":0.25,"c":"N"},{"x":4.625,"y":3.57,"y2":6.0,"v":0.35,"c":"O"},{"x":4.625,"y":6.0,"y2":6.9,"v":0.25,"c":"L"},{"x":4.625,"y":6.9,"y2":7.43,"v":0.15,"c":"C"},{"x":4.625,"y":7.43,"y2":8.18,"v":0.05,"c":"D"},{"x":4.625,"y":8.18,"y2":8.69,"v":-0.05,"c":"G"},{"x":4.625,"y":8.69,"y2":10.3,"v":0.05,"c":"H"},{"x":4.625,"y":10.3,"y2":10.99,"v":0.15,"c":"I"},{"x":4.625,"y":10.99,"y2":11.66,"v":0.25,"c":"W"},{"x":4.625,"y":11.66,"y2":12,"v":0.35},
{"x":4.875,"y":1,"y2":3.0,"v":0.15,"c":"K"},{"x":4.875,"y":3.0,"y2":3.56,"v":0.25,"c":"N"},{"x":4.875,"y":3.56,"y2":6.0,"v":0.35,"c":"O"},{"x":4.875,"y":6.0,"y2":6.89,"v":0.25,"c":"L"},{"x":4.875,"y":6.89,"y2":7.4,"v":0.15,"c":"C"},{"x":4.875,"y":7.4,"y2":8.12,"v":0.05,"c":"D"},{"x":4.875,"y":8.12,"y2":8.83,"v":-0.05,"c":"G"},{"x":4.875,"y":8.83,"y2":9.25,"v":0.05,"c":"X"},{"x":4.875,"y":9.25,"y2":9.7,"v":-0.05,"c":"Y"},{"x":4.875,"y":9.7,"y2":10.56,"v":0.05,"c":"H"},{"x":4.875,"y":10.56,"y2":11.04,"v":0.15,"c":"I"},{"x":4.875,"y":11.04,"y2":11.54,"v":0.25,"c":"W"},{"x":4.875,"y":11.54,"y2":12,"v":0.35}
]},
"encoding":{"x":{"field":"x","type":"quantitative","scale":{"domain":[0,5],"nice":false,"zero":false},"axis":{"values":[0,1,2,3,4,5],"title":"Thêi gian trÔ, k (th¸ng)"}},
"y":{"field":"y","type":"quantitative","scale":{"domain":[1,12],"nice":false,"zero":false},"axis":{"values":[1,2,3,4,5,6,7,8,9,10,11,12],"title":"Th¸ng"}}},
"layer":[
{"transform":[{"filter":"isValid(datum.v)"}],"mark":{"type":"rect","width":14.3,"clip":true,"strokeWidth":0.6},
"encoding":{"y2":{"field":"y2"},
"color":{"field":"v","type":"ordinal","scale":{"domain":[-0.15,-0.05,0.05,0.15,0.25,0.35,0.45,0.55,0.65],"range":["#00FFFF","#38F2FF","#74E4FF","#A8D8FF","#D4D4F2","#E6E6C8","#FCFAA0","#FCC886","#FA8C6C"]},"legend":null},
"stroke":{"field":"v","type":"ordinal","scale":{"domain":[-0.15,-0.05,0.05,0.15,0.25,0.35,0.45,0.55,0.65],"range":["#00FFFF","#38F2FF","#74E4FF","#A8D8FF","#D4D4F2","#E6E6C8","#FCFAA0","#FCC886","#FA8C6C"]},"legend":null}}},
{"transform":[{"filter":"isValid(datum.c)"}],"mark":{"type":"line","color":"#000","strokeWidth":1.1,"interpolate":"monotone","clip":true},
"encoding":{"y":{"field":"y2","type":"quantitative","scale":{"domain":[1,12],"nice":false,"zero":false},"axis":{"values":[1,2,3,4,5,6,7,8,9,10,11,12],"title":"Th¸ng"}},"detail":{"field":"c"},"order":{"field":"x","type":"quantitative"}}},
{"data":{"values":[{"x":3.5,"y":10.5,"t":"0.2"},{"x":3.64,"y":9.57,"t":"0.1"},{"x":3.82,"y":8.76,"t":"0"},{"x":3.7,"y":3.52,"t":"0.3"},{"x":3.67,"y":2.82,"t":"0.2"}]},
"mark":{"type":"text","font":"Liberation Sans","fontSize":16,"fontStyle":"italic","fontWeight":"bold","fill":"#0000FF"},"encoding":{"text":{"field":"t"}}},
{"data":{"values":[{"x":1.13,"y":6.4,"t":"0"},{"x":1.28,"y":5.8,"t":"0.1"},{"x":2.5,"y":4.2,"t":"0.5"},{"x":2.38,"y":3.9,"t":"0.4"}]},
"mark":{"type":"text","angle":28,"font":"Liberation Sans","fontSize":16,"fontStyle":"italic","fontWeight":"bold","fill":"#0000FF"},"encoding":{"text":{"field":"t"}}},
{"data":{"values":[{"x":2.15,"y":5.65,"t":"0.3"}]},
"mark":{"type":"text","angle":-15,"font":"Liberation Sans","fontSize":16,"fontStyle":"italic","fontWeight":"bold","fill":"#0000FF"},"encoding":{"text":{"field":"t"}}},
{"data":{"values":[{"x":0.95,"y":4.32,"t":"0.2"}]},
"mark":{"type":"text","angle":80,"font":"Liberation Sans","fontSize":16,"fontStyle":"italic","fontWeight":"bold","fill":"#0000FF"},"encoding":{"text":{"field":"t"}}},
{"data":{"values":[{}]},"mark":{"type":"rect","fill":"transparent","stroke":"#1c1c7c","strokeWidth":1.5},"encoding":{"x":{"datum":0},"x2":{"datum":5},"y":{"datum":1},"y2":{"datum":12}}}
]}
]},
{"width":280,"height":370,"title":{"text":"§é Èm t- ¬ng ®èi (%)"},
"data":{"values":[
{"x":0,"y2":2.2,"c":"b"},{"x":0.5,"y2":1.0,"c":"b"},{"x":0,"y2":2.57,"c":"c"},{"x":1.55,"y2":1.95,"c":"c"},{"x":0.59,"y2":1.0,"c":"p"},{"x":1.55,"y2":1.95,"c":"p"},{"x":0,"y2":2.97,"c":"d"},{"x":5,"y2":2.98,"c":"d"},{"x":0,"y2":3.47,"c":"e"},{"x":5,"y2":3.9,"c":"e"},{"x":0,"y2":3.82,"c":"f"},{"x":4.42,"y2":4.45,"c":"f"},{"x":0,"y2":4.76,"c":"g"},{"x":4.42,"y2":4.45,"c":"g"},{"x":0,"y2":5.15,"c":"h"},{"x":5,"y2":5.4,"c":"h"},{"x":0,"y2":5.45,"c":"i"},{"x":5,"y2":6.25,"c":"i"},{"x":0,"y2":5.75,"c":"j"},{"x":5,"y2":7.09,"c":"j"},{"x":0,"y2":6.05,"c":"k"},{"x":0.56,"y2":6.95,"c":"k"},{"x":0,"y2":8.48,"c":"l"},{"x":0.56,"y2":6.95,"c":"l"},{"x":0,"y2":9.35,"c":"m"},{"x":5,"y2":11.55,"c":"m"},{"x":0,"y2":10.01,"c":"n"},{"x":1.37,"y2":10.45,"c":"n"},{"x":0,"y2":11.85,"c":"o"},{"x":1.37,"y2":10.45,"c":"o"},{"x":0.95,"y2":1.0,"c":"q"},{"x":2.79,"y2":1.0,"c":"q"},{"x":0.95,"y2":4.6,"c":"r"},{"x":3.68,"y2":4.75,"c":"r"},{"x":0.95,"y2":4.6,"c":"s"},{"x":3.68,"y2":4.75,"c":"s"},{"x":3.97,"y2":1.0,"c":"t"},{"x":5,"y2":1.25,"c":"t"},{"x":4.57,"y2":8.18,"c":"u"},{"x":5,"y2":7.78,"c":"u"},{"x":4.57,"y2":8.18,"c":"v"},{"x":5,"y2":8.78,"c":"v"},
{"x":0.125,"y":1,"y2":2.0,"v":1.25,"c":"a"},{"x":0.125,"y":2.0,"y2":2.2,"v":0.75,"c":"b"},{"x":0.125,"y":2.2,"y2":2.56,"v":0.25,"c":"c"},{"x":0.125,"y":2.56,"y2":2.96,"v":-0.25,"c":"d"},{"x":0.125,"y":2.96,"y2":3.46,"v":-0.75,"c":"e"},{"x":0.125,"y":3.46,"y2":3.81,"v":-1.25,"c":"f"},{"x":0.125,"y":3.81,"y2":4.79,"v":-1.75,"c":"g"},{"x":0.125,"y":4.79,"y2":5.18,"v":-1.25,"c":"h"},{"x":0.125,"y":5.18,"y2":5.48,"v":-0.75,"c":"i"},{"x":0.125,"y":5.48,"y2":5.82,"v":-0.25,"c":"j"},{"x":0.125,"y":5.82,"y2":6.3,"v":0.25,"c":"k"},{"x":0.125,"y":6.3,"y2":8.22,"v":0.75,"c":"l"},{"x":0.125,"y":8.22,"y2":9.33,"v":0.25,"c":"m"},{"x":0.125,"y":9.33,"y2":10.02,"v":-0.25,"c":"n"},{"x":0.125,"y":10.02,"y2":11.68,"v":-0.75,"c":"o"},{"x":0.125,"y":11.68,"y2":12,"v":-0.25},
{"x":0.375,"y":1,"y2":1.9,"v":0.75,"c":"b"},{"x":0.375,"y":1.9,"y2":2.53,"v":0.25,"c":"c"},{"x":0.375,"y":2.53,"y2":2.93,"v":-0.25,"c":"d"},{"x":0.375,"y":2.93,"y2":3.44,"v":-0.75,"c":"e"},{"x":0.375,"y":3.44,"y2":3.78,"v":-1.25,"c":"f"},{"x":0.375,"y":3.78,"y2":4.85,"v":-1.75,"c":"g"},{"x":0.375,"y":4.85,"y2":5.23,"v":-1.25,"c":"h"},{"x":0.375,"y":5.23,"y2":5.53,"v":-0.75,"c":"i"},{"x":0.375,"y":5.53,"y2":5.95,"v":-0.25,"c":"j"},{"x":0.375,"y":5.95,"y2":6.6,"v":0.25,"c":"k"},{"x":0.375,"y":6.6,"y2":7.55,"v":0.75,"c":"l"},{"x":0.375,"y":7.55,"y2":9.28,"v":0.25,"c":"m"},{"x":0.375,"y":9.28,"y2":10.03,"v":-0.25,"c":"n"},{"x":0.375,"y":10.03,"y2":11.39,"v":-0.75,"c":"o"},{"x":0.375,"y":11.39,"y2":12,"v":-0.25},
{"x":0.625,"y":1,"y2":1.08,"v":-0.25,"c":"p"},{"x":0.625,"y":1.08,"y2":2.5,"v":0.25,"c":"c"},{"x":0.625,"y":2.5,"y2":2.9,"v":-0.25,"c":"d"},{"x":0.625,"y":2.9,"y2":3.42,"v":-0.75,"c":"e"},{"x":0.625,"y":3.42,"y2":3.75,"v":-1.25,"c":"f"},{"x":0.625,"y":3.75,"y2":4.91,"v":-1.75,"c":"g"},{"x":0.625,"y":4.91,"y2":5.28,"v":-1.25,"c":"h"},{"x":0.625,"y":5.28,"y2":5.58,"v":-0.75,"c":"i"},{"x":0.625,"y":5.58,"y2":6.08,"v":-0.25,"c":"j"},{"x":0.625,"y":6.08,"y2":9.23,"v":0.25,"c":"m"},{"x":0.625,"y":9.23,"y2":10.05,"v":-0.25,"c":"n"},{"x":0.625,"y":10.05,"y2":11.15,"v":-0.75,"c":"o"},{"x":0.625,"y":11.15,"y2":12,"v":-0.25},
{"x":0.875,"y":1,"y2":1.3,"v":-0.25,"c":"p"},{"x":0.875,"y":1.3,"y2":2.47,"v":0.25,"c":"c"},{"x":0.875,"y":2.47,"y2":2.88,"v":-0.25,"c":"d"},{"x":0.875,"y":2.88,"y2":3.4,"v":-0.75,"c":"e"},{"x":0.875,"y":3.4,"y2":3.72,"v":-1.25,"c":"f"},{"x":0.875,"y":3.72,"y2":4.97,"v":-1.75,"c":"g"},{"x":0.875,"y":4.97,"y2":5.33,"v":-1.25,"c":"h"},{"x":0.875,"y":5.33,"y2":5.63,"v":-0.75,"c":"i"},{"x":0.875,"y":5.63,"y2":6.21,"v":-0.25,"c":"j"},{"x":0.875,"y":6.21,"y2":9.18,"v":0.25,"c":"m"},{"x":0.875,"y":9.18,"y2":10.1,"v":-0.25,"c":"n"},{"x":0.875,"y":10.1,"y2":11.0,"v":-0.75,"c":"o"},{"x":0.875,"y":11.0,"y2":12,"v":-0.25},
{"x":1.125,"y":1,"y2":1.1,"v":-0.75,"c":"q"},{"x":1.125,"y":1.1,"y2":1.52,"v":-0.25,"c":"p"},{"x":1.125,"y":1.52,"y2":2.44,"v":0.25,"c":"c"},{"x":1.125,"y":2.44,"y2":2.85,"v":-0.25,"c":"d"},{"x":1.125,"y":2.85,"y2":3.38,"v":-0.75,"c":"e"},{"x":1.125,"y":3.38,"y2":3.69,"v":-1.25,"c":"f"},{"x":1.125,"y":3.69,"y2":4.45,"v":-1.75,"c":"r"},{"x":1.125,"y":4.45,"y2":4.85,"v":-2.25,"c":"s"},{"x":1.125,"y":4.85,"y2":5.03,"v":-1.75,"c":"g"},{"x":1.125,"y":5.03,"y2":5.38,"v":-1.25,"c":"h"},{"x":1.125,"y":5.38,"y2":5.68,"v":-0.75,"c":"i"},{"x":1.125,"y":5.68,"y2":6.35,"v":-0.25,"c":"j"},{"x":1.125,"y":6.35,"y2":9.13,"v":0.25,"c":"m"},{"x":1.125,"y":9.13,"y2":10.17,"v":-0.25,"c":"n"},{"x":1.125,"y":10.17,"y2":10.87,"v":-0.75,"c":"o"},{"x":1.125,"y":10.87,"y2":12,"v":-0.25},
{"x":1.375,"y":1,"y2":1.2,"v":-0.75,"c":"q"},{"x":1.375,"y":1.2,"y2":1.75,"v":-0.25,"c":"p"},{"x":1.375,"y":1.75,"y2":2.35,"v":0.25,"c":"c"},{"x":1.375,"y":2.35,"y2":2.82,"v":-0.25,"c":"d"},{"x":1.375,"y":2.82,"y2":3.37,"v":-0.75,"c":"e"},{"x":1.375,"y":3.37,"y2":3.67,"v":-1.25,"c":"f"},{"x":1.375,"y":3.67,"y2":4.4,"v":-1.75,"c":"r"},{"x":1.375,"y":4.4,"y2":4.82,"v":-2.25,"c":"s"},{"x":1.375,"y":4.82,"y2":5.08,"v":-1.75,"c":"g"},{"x":1.375,"y":5.08,"y2":5.43,"v":-1.25,"c":"h"},{"x":1.375,"y":5.43,"y2":5.73,"v":-0.75,"c":"i"},{"x":1.375,"y":5.73,"y2":6.4,"v":-0.25,"c":"j"},{"x":1.375,"y":6.4,"y2":9.05,"v":0.25,"c":"m"},{"x":1.375,"y":9.05,"y2":12,"v":-0.25},
{"x":1.625,"y":1,"y2":1.24,"v":-0.75,"c":"q"},{"x":1.625,"y":1.24,"y2":2.81,"v":-0.25,"c":"d"},{"x":1.625,"y":2.81,"y2":3.35,"v":-0.75,"c":"e"},{"x":1.625,"y":3.35,"y2":3.7,"v":-1.25,"c":"f"},{"x":1.625,"y":3.7,"y2":4.33,"v":-1.75,"c":"r"},{"x":1.625,"y":4.33,"y2":4.77,"v":-2.25,"c":"s"},{"x":1.625,"y":4.77,"y2":5.13,"v":-1.75,"c":"g"},{"x":1.625,"y":5.13,"y2":5.46,"v":-1.25,"c":"h"},{"x":1.625,"y":5.46,"y2":5.77,"v":-0.75,"c":"i"},{"x":1.625,"y":5.77,"y2":6.44,"v":-0.25,"c":"j"},{"x":1.625,"y":6.44,"y2":8.95,"v":0.25,"c":"m"},{"x":1.625,"y":8.95,"y2":12,"v":-0.25},
{"x":1.875,"y":1,"y2":1.23,"v":-0.75,"c":"q"},{"x":1.875,"y":1.23,"y2":2.8,"v":-0.25,"c":"d"},{"x":1.875,"y":2.8,"y2":3.33,"v":-0.75,"c":"e"},{"x":1.875,"y":3.33,"y2":3.73,"v":-1.25,"c":"f"},{"x":1.875,"y":3.73,"y2":4.3,"v":-1.75,"c":"r"},{"x":1.875,"y":4.3,"y2":4.82,"v":-2.25,"c":"s"},{"x":1.875,"y":4.82,"y2":5.18,"v":-1.75,"c":"g"},{"x":1.875,"y":5.18,"y2":5.49,"v":-1.25,"c":"h"},{"x":1.875,"y":5.49,"y2":5.83,"v":-0.75,"c":"i"},{"x":1.875,"y":5.83,"y2":6.49,"v":-0.25,"c":"j"},{"x":1.875,"y":6.49,"y2":8.86,"v":0.25,"c":"m"},{"x":1.875,"y":8.86,"y2":12,"v":-0.25},
{"x":2.125,"y":1,"y2":1.21,"v":-0.75,"c":"q"},{"x":2.125,"y":1.21,"y2":2.79,"v":-0.25,"c":"d"},{"x":2.125,"y":2.79,"y2":3.33,"v":-0.75,"c":"e"},{"x":2.125,"y":3.33,"y2":3.76,"v":-1.25,"c":"f"},{"x":2.125,"y":3.76,"y2":4.28,"v":-1.75,"c":"r"},{"x":2.125,"y":4.28,"y2":4.91,"v":-2.25,"c":"s"},{"x":2.125,"y":4.91,"y2":5.21,"v":-1.75,"c":"g"},{"x":2.125,"y":5.21,"y2":5.52,"v":-1.25,"c":"h"},{"x":2.125,"y":5.52,"y2":5.88,"v":-0.75,"c":"i"},{"x":2.125,"y":5.88,"y2":6.53,"v":-0.25,"c":"j"},{"x":2.125,"y":6.53,"y2":8.92,"v":0.25,"c":"m"},{"x":2.125,"y":8.92,"y2":12,"v":-0.25},
{"x":2.375,"y":1,"y2":1.18,"v":-0.75,"c":"q"},{"x":2.375,"y":1.18,"y2":2.78,"v":-0.25,"c":"d"},{"x":2.375,"y":2.78,"y2":3.36,"v":-0.75,"c":"e"},{"x":2.375,"y":3.36,"y2":3.8,"v":-1.25,"c":"f"},{"x":2.375,"y":3.8,"y2":4.26,"v":-1.75,"c":"r"},{"x":2.375,"y":4.26,"y2":5.01,"v":-2.25,"c":"s"},{"x":2.375,"y":5.01,"y2":5.24,"v":-1.75,"c":"g"},{"x":2.375,"y":5.24,"y2":5.54,"v":-1.25,"c":"h"},{"x":2.375,"y":5.54,"y2":5.94,"v":-0.75,"c":"i"},{"x":2.375,"y":5.94,"y2":6.58,"v":-0.25,"c":"j"},{"x":2.375,"y":6.58,"y2":9.0,"v":0.25,"c":"m"},{"x":2.375,"y":9.0,"y2":12,"v":-0.25},
{"x":2.625,"y":1,"y2":1.08,"v":-0.75,"c":"q"},{"x":2.625,"y":1.08,"y2":2.77,"v":-0.25,"c":"d"},{"x":2.625,"y":2.77,"y2":3.38,"v":-0.75,"c":"e"},{"x":2.625,"y":3.38,"y2":3.83,"v":-1.25,"c":"f"},{"x":2.625,"y":3.83,"y2":4.24,"v":-1.75,"c":"r"},{"x":2.625,"y":4.24,"y2":5.1,"v":-2.25,"c":"s"},{"x":2.625,"y":5.1,"y2":5.26,"v":-1.75,"c":"g"},{"x":2.625,"y":5.26,"y2":5.57,"v":-1.25,"c":"h"},{"x":2.625,"y":5.57,"y2":5.99,"v":-0.75,"c":"i"},{"x":2.625,"y":5.99,"y2":6.63,"v":-0.25,"c":"j"},{"x":2.625,"y":6.63,"y2":9.08,"v":0.25,"c":"m"},{"x":2.625,"y":9.08,"y2":12,"v":-0.25},
{"x":2.875,"y":1,"y2":2.79,"v":-0.25,"c":"d"},{"x":2.875,"y":2.79,"y2":3.41,"v":-0.75,"c":"e"},{"x":2.875,"y":3.41,"y2":3.87,"v":-1.25,"c":"f"},{"x":2.875,"y":3.87,"y2":4.21,"v":-1.75,"c":"r"},{"x":2.875,"y":4.21,"y2":5.12,"v":-2.25,"c":"s"},{"x":2.875,"y":5.12,"y2":5.29,"v":-1.75,"c":"g"},{"x":2.875,"y":5.29,"y2":5.6,"v":-1.25,"c":"h"},{"x":2.875,"y":5.6,"y2":6.05,"v":-0.75,"c":"i"},{"x":2.875,"y":6.05,"y2":6.68,"v":-0.25,"c":"j"},{"x":2.875,"y":6.68,"y2":9.16,"v":0.25,"c":"m"},{"x":2.875,"y":9.16,"y2":12,"v":-0.25},
{"x":3.125,"y":1,"y2":2.81,"v":-0.25,"c":"d"},{"x":3.125,"y":2.81,"y2":3.44,"v":-0.75,"c":"e"},{"x":3.125,"y":3.44,"y2":3.9,"v":-1.25,"c":"f"},{"x":3.125,"y":3.9,"y2":4.29,"v":-1.75,"c":"r"},{"x":3.125,"y":4.29,"y2":5.13,"v":-2.25,"c":"s"},{"x":3.125,"y":5.13,"y2":5.3,"v":-1.75,"c":"g"},{"x":3.125,"y":5.3,"y2":5.62,"v":-1.25,"c":"h"},{"x":3.125,"y":5.62,"y2":6.08,"v":-0.75,"c":"i"},{"x":3.125,"y":6.08,"y2":6.73,"v":-0.25,"c":"j"},{"x":3.125,"y":6.73,"y2":9.31,"v":0.25,"c":"m"},{"x":3.125,"y":9.31,"y2":12,"v":-0.25},
{"x":3.375,"y":1,"y2":2.84,"v":-0.25,"c":"d"},{"x":3.375,"y":2.84,"y2":3.47,"v":-0.75,"c":"e"},{"x":3.375,"y":3.47,"y2":3.94,"v":-1.25,"c":"f"},{"x":3.375,"y":3.94,"y2":4.4,"v":-1.75,"c":"r"},{"x":3.375,"y":4.4,"y2":5.15,"v":-2.25,"c":"s"},{"x":3.375,"y":5.15,"y2":5.3,"v":-1.75,"c":"g"},{"x":3.375,"y":5.3,"y2":5.65,"v":-1.25,"c":"h"},{"x":3.375,"y":5.65,"y2":6.12,"v":-0.75,"c":"i"},{"x":3.375,"y":6.12,"y2":6.79,"v":-0.25,"c":"j"},{"x":3.375,"y":6.79,"y2":9.48,"v":0.25,"c":"m"},{"x":3.375,"y":9.48,"y2":12,"v":-0.25},
{"x":3.625,"y":1,"y2":2.86,"v":-0.25,"c":"d"},{"x":3.625,"y":2.86,"y2":3.5,"v":-0.75,"c":"e"},{"x":3.625,"y":3.5,"y2":3.97,"v":-1.25,"c":"f"},{"x":3.625,"y":3.97,"y2":4.6,"v":-1.75,"c":"r"},{"x":3.625,"y":4.6,"y2":4.9,"v":-2.25,"c":"s"},{"x":3.625,"y":4.9,"y2":5.3,"v":-1.75,"c":"g"},{"x":3.625,"y":5.3,"y2":5.68,"v":-1.25,"c":"h"},{"x":3.625,"y":5.68,"y2":6.15,"v":-0.75,"c":"i"},{"x":3.625,"y":6.15,"y2":6.87,"v":-0.25,"c":"j"},{"x":3.625,"y":6.87,"y2":9.64,"v":0.25,"c":"m"},{"x":3.625,"y":9.64,"y2":12,"v":-0.25},
{"x":3.875,"y":1,"y2":2.88,"v":-0.25,"c":"d"},{"x":3.875,"y":2.88,"y2":3.54,"v":-0.75,"c":"e"},{"x":3.875,"y":3.54,"y2":4.01,"v":-1.25,"c":"f"},{"x":3.875,"y":4.01,"y2":5.2,"v":-1.75,"c":"g"},{"x":3.875,"y":5.2,"y2":5.68,"v":-1.25,"c":"h"},{"x":3.875,"y":5.68,"y2":6.18,"v":-0.75,"c":"i"},{"x":3.875,"y":6.18,"y2":6.95,"v":-0.25,"c":"j"},{"x":3.875,"y":6.95,"y2":10.17,"v":0.25,"c":"m"},{"x":3.875,"y":10.17,"y2":12,"v":-0.25},
{"x":4.125,"y":1,"y2":1.07,"v":-0.75,"c":"t"},{"x":4.125,"y":1.07,"y2":2.9,"v":-0.25,"c":"d"},{"x":4.125,"y":2.9,"y2":3.6,"v":-0.75,"c":"e"},{"x":4.125,"y":3.6,"y2":4.06,"v":-1.25,"c":"f"},{"x":4.125,"y":4.06,"y2":5.02,"v":-1.75,"c":"g"},{"x":4.125,"y":5.02,"y2":5.62,"v":-1.25,"c":"h"},{"x":4.125,"y":5.62,"y2":6.21,"v":-0.75,"c":"i"},{"x":4.125,"y":6.21,"y2":7.06,"v":-0.25,"c":"j"},{"x":4.125,"y":7.06,"y2":10.71,"v":0.25,"c":"m"},{"x":4.125,"y":10.71,"y2":12,"v":-0.25},
{"x":4.375,"y":1,"y2":1.17,"v":-0.75,"c":"t"},{"x":4.375,"y":1.17,"y2":2.92,"v":-0.25,"c":"d"},{"x":4.375,"y":2.92,"y2":3.67,"v":-0.75,"c":"e"},{"x":4.375,"y":3.67,"y2":4.3,"v":-1.25,"c":"f"},{"x":4.375,"y":4.3,"y2":4.6,"v":-1.75,"c":"g"},{"x":4.375,"y":4.6,"y2":5.56,"v":-1.25,"c":"h"},{"x":4.375,"y":5.56,"y2":6.24,"v":-0.75,"c":"i"},{"x":4.375,"y":6.24,"y2":7.07,"v":-0.25,"c":"j"},{"x":4.375,"y":7.07,"y2":10.97,"v":0.25,"c":"m"},{"x":4.375,"y":10.97,"y2":12,"v":-0.25},
{"x":4.625,"y":1,"y2":1.24,"v":-0.75,"c":"t"},{"x":4.625,"y":1.24,"y2":2.95,"v":-0.25,"c":"d"},{"x":4.625,"y":2.95,"y2":3.75,"v":-0.75,"c":"e"},{"x":4.625,"y":3.75,"y2":5.49,"v":-1.25,"c":"h"},{"x":4.625,"y":5.49,"y2":6.25,"v":-0.75,"c":"i"},{"x":4.625,"y":6.25,"y2":7.08,"v":-0.25,"c":"j"},{"x":4.625,"y":7.08,"y2":8.1,"v":0.25,"c":"u"},{"x":4.625,"y":8.1,"y2":8.26,"v":0.75,"c":"v"},{"x":4.625,"y":8.26,"y2":11.21,"v":0.25,"c":"m"},{"x":4.625,"y":11.21,"y2":12,"v":-0.25},
{"x":4.875,"y":1,"y2":1.25,"v":-0.75,"c":"t"},{"x":4.875,"y":1.25,"y2":2.97,"v":-0.25,"c":"d"},{"x":4.875,"y":2.97,"y2":3.85,"v":-0.75,"c":"e"},{"x":4.875,"y":3.85,"y2":5.43,"v":-1.25,"c":"h"},{"x":4.875,"y":5.43,"y2":6.25,"v":-0.75,"c":"i"},{"x":4.875,"y":6.25,"y2":7.09,"v":-0.25,"c":"j"},{"x":4.875,"y":7.09,"y2":7.9,"v":0.25,"c":"u"},{"x":4.875,"y":7.9,"y2":8.65,"v":0.75,"c":"v"},{"x":4.875,"y":8.65,"y2":11.45,"v":0.25,"c":"m"},{"x":4.875,"y":11.45,"y2":12,"v":-0.25}
]},
"encoding":{"x":{"field":"x","type":"quantitative","scale":{"domain":[0,5],"nice":false,"zero":false},"axis":{"values":[0,1,2,3,4,5],"title":"Thêi gian trÔ k (th¸ng)","titleFontStyle":"italic","titleAnchor":"end"}},
"y":{"field":"y","type":"quantitative","scale":{"domain":[1,12],"nice":false,"zero":false},"axis":{"values":[1,2,3,4,5,6,7,8,9,10,11,12],"title":"Th¸ng"}}},
"layer":[
{"transform":[{"filter":"isValid(datum.v)"}],"mark":{"type":"rect","width":14.3,"clip":true,"strokeWidth":0.6},
"encoding":{"y2":{"field":"y2"},
"color":{"field":"v","type":"ordinal","scale":{"domain":[-2.25,-1.75,-1.25,-0.75,-0.25,0.25,0.75,1.25,1.75],"range":["#00FFFF","#3CF0FF","#74E4FF","#A8D8FF","#D8D8EE","#EAEABE","#FCE68E","#F8A46A","#F08050"]},"legend":null},
"stroke":{"field":"v","type":"ordinal","scale":{"domain":[-2.25,-1.75,-1.25,-0.75,-0.25,0.25,0.75,1.25,1.75],"range":["#00FFFF","#3CF0FF","#74E4FF","#A8D8FF","#D8D8EE","#EAEABE","#FCE68E","#F8A46A","#F08050"]},"legend":null}}},
{"transform":[{"filter":"isValid(datum.c)"}],"mark":{"type":"line","color":"#000","strokeWidth":1.1,"interpolate":"monotone","clip":true},
"encoding":{"y":{"field":"y2","type":"quantitative","scale":{"domain":[1,12],"nice":false,"zero":false},"axis":{"values":[1,2,3,4,5,6,7,8,9,10,11,12],"title":"Th¸ng"}},"detail":{"field":"c"},"order":{"field":"x","type":"quantitative"}}},
{"data":{"values":[{"x":3.86,"y":6.94,"t":"0"},{"x":3.62,"y":6.18,"t":"-0.5"},{"x":3.84,"y":5.76,"t":"-1"},{"x":3.6,"y":5.3,"t":"-1.5"},{"x":1.42,"y":3.74,"t":"-1.5"},{"x":1.22,"y":3.29,"t":"-1"},{"x":1.42,"y":2.8,"t":"-0.5"}]},
"mark":{"type":"text","font":"Liberation Sans","fontSize":14,"fontStyle":"italic","fontWeight":"bold","fill":"#0000FF"},"encoding":{"text":{"field":"t"}}},
{"data":{"values":[{"x":1.19,"y":9.12,"t":"0"},{"x":1.25,"y":2.4,"t":"0"}]},
"mark":{"type":"text","angle":-15,"font":"Liberation Sans","fontSize":14,"fontStyle":"italic","fontWeight":"bold","fill":"#0000FF"},"encoding":{"text":{"field":"t"}}},
{"data":{"values":[{"x":3.36,"y":4.97,"t":"-2"}]},
"mark":{"type":"text","angle":-30,"font":"Liberation Sans","fontSize":14,"fontStyle":"italic","fontWeight":"bold","fill":"#0000FF"},"encoding":{"text":{"field":"t"}}},
{"data":{"values":[{}]},"mark":{"type":"rect","fill":"transparent","stroke":"#1c1c7c","strokeWidth":1.5},"encoding":{"x":{"datum":0},"x2":{"datum":5},"y":{"datum":1},"y2":{"datum":12}}}
]}
]}
